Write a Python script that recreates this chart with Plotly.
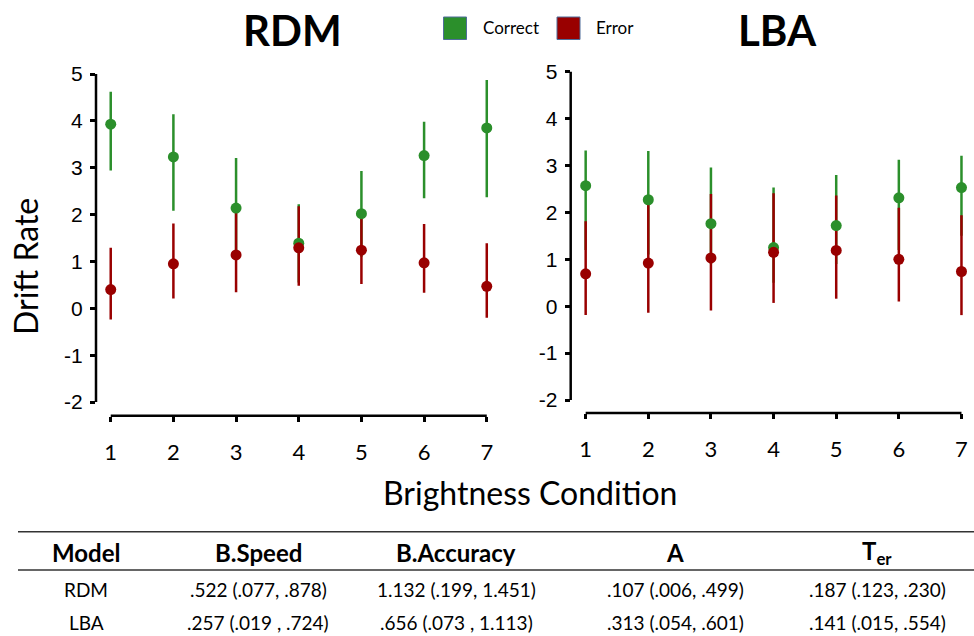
import plotly.graph_objects as go

# Brightness conditions
conditions = [1, 2, 3, 4, 5, 6, 7]

# RDM drift-rate posteriors (mean, lower, upper)
rdm_correct = [3.93, 3.23, 2.14, 1.39, 2.02, 3.26, 3.85]
rdm_correct_lo = [2.94, 2.08, 1.05, 0.55, 1.10, 2.35, 2.37]
rdm_correct_hi = [4.62, 4.14, 3.21, 2.22, 2.93, 3.98, 4.87]
rdm_error = [0.40, 0.95, 1.14, 1.29, 1.24, 0.97, 0.47]
rdm_error_lo = [-0.24, 0.21, 0.34, 0.48, 0.52, 0.33, -0.20]
rdm_error_hi = [1.29, 1.81, 2.08, 2.18, 2.03, 1.80, 1.39]

# LBA drift-rate posteriors (mean, lower, upper)
lba_correct = [2.57, 2.27, 1.76, 1.25, 1.72, 2.31, 2.53]
lba_correct_lo = [1.20, 1.10, 0.90, 0.50, 0.90, 1.20, 1.50]
lba_correct_hi = [3.32, 3.31, 2.96, 2.53, 2.80, 3.12, 3.21]
lba_error = [0.69, 0.92, 1.03, 1.15, 1.19, 1.00, 0.74]
lba_error_lo = [-0.19, -0.14, -0.09, 0.07, 0.16, 0.10, -0.19]
lba_error_hi = [1.81, 2.24, 2.39, 2.41, 2.36, 2.10, 1.94]

y_ticks = [-2, -1, 0, 1, 2, 3, 4, 5]
y_tick_labels = ["-2", "-1", "0", "1", "2", "3", "4", "5"]
x_tick_labels = ["1", "2", "3", "4", "5", "6", "7"]

# Parameter table
table_header = ["Model", "B.Speed", "B.Accuracy", "A", "T<sub>er</sub>"]
table_rows = [
    ["RDM", ".522 (.077, .878)", "1.132 (.199, 1.451)", ".107 (.006, .499)", ".187 (.123, .230)"],
    ["LBA", ".257 (.019 , .724)", ".656 (.073 , 1.113)", ".313 (.054, .601)", ".141 (.015, .554)"],
]

GREEN = "#2b8f2b"
RED = "#990000"
W, H = 974, 636
LABEL_FONT = "Lato, Carlito, Calibri, sans-serif"
NUM_FONT = "Liberation Sans, Arial, sans-serif"


def px(x):
    return x / W


def py(y):
    return (H - y) / H


def hi_minus(hi, mid):
    return [h - m for h, m in zip(hi, mid)]


def mid_minus(mid, lo):
    return [m - l for m, l in zip(mid, lo)]


fig = go.Figure()

panels = [
    ("x", "y", rdm_correct, rdm_correct_lo, rdm_correct_hi, rdm_error, rdm_error_lo, rdm_error_hi),
    ("x2", "y2", lba_correct, lba_correct_lo, lba_correct_hi, lba_error, lba_error_lo, lba_error_hi),
]

for xa, ya, c, clo, chi, e, elo, ehi in panels:
    # interval bars first, then the points on top
    for vals, lo, hi, col in [(c, clo, chi, GREEN), (e, elo, ehi, RED)]:
        fig.add_trace(go.Scatter(
            x=conditions, y=vals, mode="markers", xaxis=xa, yaxis=ya,
            marker=dict(size=1, color="rgba(0,0,0,0)"),
            error_y=dict(type="data", symmetric=False,
                         array=hi_minus(hi, vals), arrayminus=mid_minus(vals, lo),
                         color=col, thickness=2.5, width=0),
            showlegend=False, hoverinfo="skip"))
    for vals, col in [(c, GREEN), (e, RED)]:
        fig.add_trace(go.Scatter(
            x=conditions, y=vals, mode="markers", xaxis=xa, yaxis=ya,
            marker=dict(size=11, color=col, line=dict(width=0)),
            showlegend=False))

xcommon = dict(showgrid=False, zeroline=False, showline=False, ticks="outside",
               ticklen=5, tickwidth=2.5, tickcolor="black",
               tickmode="array", tickvals=conditions, ticktext=x_tick_labels,
               tickfont=dict(family=LABEL_FONT, size=22, color="black"),
               ticklabelstandoff=12)
ycommon = dict(showgrid=False, zeroline=False, showline=False, ticks="outside",
               ticklen=5, tickwidth=2.5, tickcolor="black",
               tickmode="array", tickvals=y_ticks, ticktext=y_tick_labels,
               tickfont=dict(family=NUM_FONT, size=21, color="black"),
               ticklabelstandoff=3)

fig.update_layout(
    width=W, height=H, margin=dict(l=0, r=0, t=0, b=0),
    paper_bgcolor="white", plot_bgcolor="white",
    xaxis=dict(domain=[px(96), px(499.3)], range=[0.765, 7.2], anchor="y", **xcommon),
    yaxis=dict(domain=[py(415.7), py(60)], range=[-2.292, 5.299], anchor="x", **ycommon),
    xaxis2=dict(domain=[px(570.7), 1.0], range=[0.761, 7.2], anchor="y2", **xcommon),
    yaxis2=dict(domain=[py(413), py(58)], range=[-2.277, 5.292], anchor="x2", **ycommon),
)

shapes = []
# axis lines spanning only the tick range
for xa, ya in [("x", "y"), ("x2", "y2")]:
    shapes.append(dict(type="line", xref=xa, yref=ya + " domain", x0=1, x1=7, y0=0, y1=0,
                       line=dict(color="black", width=2.5)))
    shapes.append(dict(type="line", xref=xa + " domain", yref=ya, x0=0, x1=0, y0=-2, y1=5,
                       line=dict(color="black", width=2.5)))

# legend swatches
for x0, col in [(443.5, GREEN), (557, RED)]:
    shapes.append(dict(type="rect", xref="paper", yref="paper",
                       x0=px(x0), x1=px(x0 + 23), y0=py(39.5), y1=py(17),
                       fillcolor=col, line=dict(color="#4f6d9a", width=1)))

# table rules
for yl in [531.7, 570]:
    shapes.append(dict(type="line", xref="paper", yref="paper", x0=px(18), x1=1.0,
                       y0=py(yl), y1=py(yl), line=dict(color="#333333", width=1.5)))

annotations = []


def text(x, y, s, size, family=LABEL_FONT, **kw):
    annotations.append(dict(x=px(x), y=py(y), xref="paper", yref="paper", text=s,
                            showarrow=False, xanchor=kw.pop("xanchor", "center"),
                            yanchor="middle",
                            font=dict(family=family, size=size, color="black"), **kw))


text(292, 30, "<b>RDM</b>", 42)
text(777, 30, "<b>LBA</b>", 42)
text(481, 28, "Correct", 17, xanchor="left")
text(594, 28, "Error", 17, xanchor="left")
text(25, 267, "Drift Rate", 32, textangle=-90)
text(530, 492, "Brightness Condition", 32)

col_x = [86, 258, 456, 675, 877]
for cx, h in zip(col_x, table_header):
    text(cx, 552, "<b>" + h + "</b>", 24)
for ry, row in zip([589, 622], table_rows):
    for cx, v in zip(col_x, row):
        text(cx, ry, v, 19)

fig.update_layout(shapes=shapes, annotations=annotations)
fig.write_html("out.html")
